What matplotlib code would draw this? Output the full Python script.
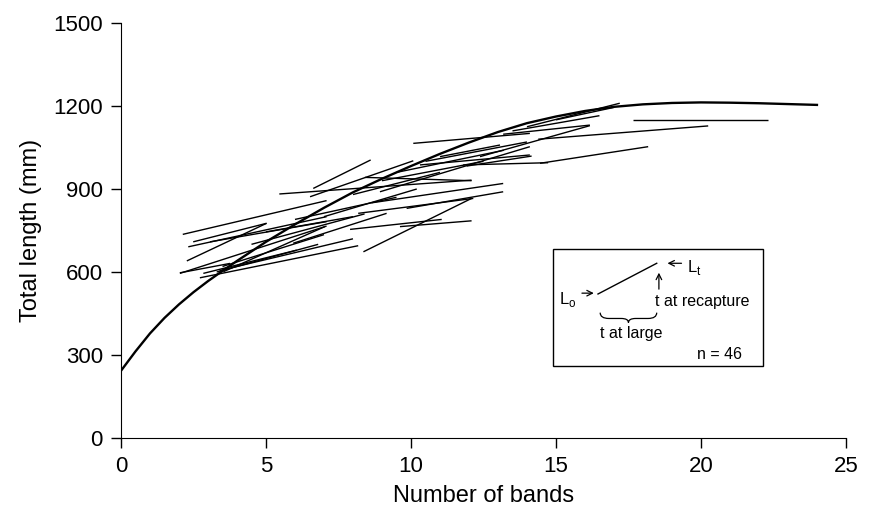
import matplotlib
matplotlib.use('Agg')
import matplotlib.pyplot as plt
from matplotlib.path import Path
from matplotlib.patches import PathPatch, Rectangle

plt.rcParams['font.family'] = ['Liberation Sans', 'DejaVu Sans']

# fitted growth curve
curve_x = [0, 0.5, 1, 1.5, 2, 2.5, 3, 3.5, 4, 5, 6, 7, 8, 9, 10, 11, 12,
           13, 14, 15, 16, 17, 18, 19, 20, 21, 22, 23, 24]
curve_y = [243, 313, 378, 434, 483, 527, 567, 604, 640, 709, 772, 832, 888,
           937, 983, 1027, 1068, 1106, 1138, 1162, 1182, 1197, 1206, 1211,
           1213, 1212, 1210, 1207, 1204]

# tag-recapture segments: bands and length at release / at recapture
rel_bands = [2.13, 2.49, 2.27, 2.32, 3.07, 2.03, 2.72, 2.84, 3.53, 5.46,
             6.63, 6.52, 8.41, 8.93, 8.64, 8.18, 9.85, 7.90, 9.62, 8.36,
             5.94, 10.08, 11.0, 11.92, 13.18, 12.38, 14.39, 14.45, 17.67, 14.0,
             3.4, 3.3, 2.03, 4.5, 5.0, 6.0, 9.0, 9.5, 10.5, 10.31,
             11.8, 13.5, 15.0, 7.0, 3.5, 8.0]
rel_len = [736, 709, 640, 691, 709, 595, 579, 595, 601, 882,
           902, 872, 942, 890, 850, 812, 830, 754, 764, 673,
           704, 1065, 1017, 983, 1098, 1017, 1080, 993, 1149, 1125,
           605, 600, 597, 700, 745, 790, 930, 960, 1000, 987,
           987, 1110, 1150, 800, 620, 880]
rec_bands = [7.09, 5.02, 5.02, 7.09, 7.09, 7.09, 8.18, 6.06, 7.03, 12.09,
             8.61, 10.08, 12.09, 14.10, 13.18, 12.15, 13.18, 11.06, 12.09, 12.09,
             9.16, 14.10, 13.07, 14.16, 16.17, 16.17, 20.25, 18.18, 22.32, 17.2,
             8.0, 6.8, 3.76, 8.4, 8.0, 9.5, 12.5, 13.2, 14.0, 14.10,
             14.73, 16.5, 17.0, 10.2, 7.0, 11.0]
rec_len = [858, 776, 776, 800, 782, 766, 695, 679, 764, 932,
           1005, 1002, 930, 1053, 920, 866, 890, 790, 785, 866,
           812, 1101, 1059, 1019, 1131, 1129, 1128, 1053, 1149, 1210,
           720, 700, 631, 810, 800, 870, 1000, 1040, 1070, 1023,
           995, 1165, 1195, 900, 735, 960]

fig = plt.figure(figsize=(8.73, 5.16), dpi=100)
ax = fig.add_axes([0.1386, 0.1512, 0.8304, 0.8042])

for i in range(len(rel_bands)):
    ax.plot([rel_bands[i], rec_bands[i]], [rel_len[i], rec_len[i]],
            color='black', lw=1.0, solid_capstyle='butt')

ax.plot(curve_x, curve_y, color='black', lw=1.7)

ax.set_xlim(0, 25)
ax.set_ylim(0, 1500)
ax.set_xticks([0, 5, 10, 15, 20, 25])
ax.set_yticks([0, 300, 600, 900, 1200, 1500])
ax.spines['top'].set_visible(False)
ax.spines['right'].set_visible(False)
ax.tick_params(direction='out', length=7, width=1, labelsize=16, pad=6)
ax.set_xlabel('Number of bands', fontsize=17, labelpad=6)
ax.set_ylabel('Total length (mm)', fontsize=17, labelpad=8)

# inset explaining the segments
T = ax.transAxes
ax.add_patch(Rectangle((0.596, 0.173), 0.290, 0.282, transform=T,
                       fill=False, edgecolor='black', lw=1.0))
ax.plot([0.658, 0.739], [0.347, 0.421], transform=T, color='black', lw=1.0)
ax.text(0.604, 0.333, r'L$_\mathregular{o}$', transform=T, fontsize=12,
        ha='left', va='center')
ax.annotate('', xy=(0.656, 0.349), xytext=(0.632, 0.349), xycoords=T,
            arrowprops=dict(arrowstyle='->', lw=0.9, color='black'))
ax.text(0.781, 0.410, r'L$_\mathregular{t}$', transform=T, fontsize=12,
        ha='left', va='center')
ax.annotate('', xy=(0.750, 0.421), xytext=(0.777, 0.421), xycoords=T,
            arrowprops=dict(arrowstyle='->', lw=0.9, color='black'))
ax.annotate('', xy=(0.742, 0.405), xytext=(0.742, 0.352), xycoords=T,
            arrowprops=dict(arrowstyle='->', lw=0.9, color='black'))
ax.text(0.737, 0.328, 't at recapture', transform=T, fontsize=11.5,
        ha='left', va='center')
ax.text(0.704, 0.252, 't at large', transform=T, fontsize=11.5,
        ha='center', va='center')
ax.text(0.856, 0.202, 'n = 46', transform=T, fontsize=11.5,
        ha='right', va='center')

# curly brace under the segment
bl, br, bt, bm = 0.661, 0.739, 0.302, 0.288
mid = (bl + br) / 2
verts = [(bl, bt), (bl, bm), (bl + 0.012, bm),
         (mid - 0.010, bm), (mid, bm), (mid, bm - 0.010),
         (mid, bm), (mid + 0.010, bm),
         (br - 0.012, bm), (br, bm), (br, bt)]
codes = [Path.MOVETO, Path.CURVE3, Path.CURVE3,
         Path.LINETO, Path.CURVE3, Path.CURVE3,
         Path.CURVE3, Path.CURVE3,
         Path.LINETO, Path.CURVE3, Path.CURVE3]
ax.add_patch(PathPatch(Path(verts, codes), transform=T, fill=False,
                       edgecolor='black', lw=0.9))

fig.savefig('out.png', dpi=100)
